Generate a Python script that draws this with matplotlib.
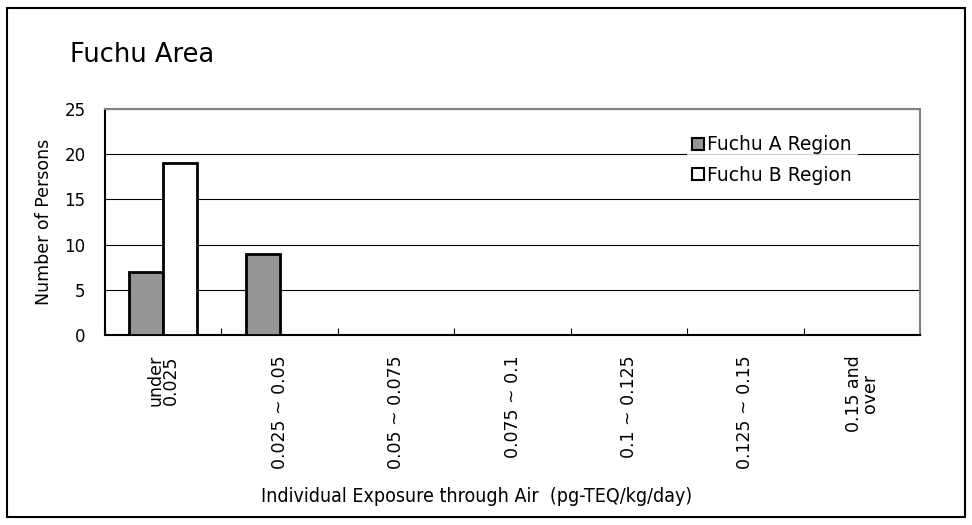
import matplotlib.pyplot as plt
import numpy as np
from matplotlib.patches import Rectangle

categories = ["under\n0.025", "0.025 ~ 0.05", "0.05 ~ 0.075", "0.075 ~ 0.1",
              "0.1 ~ 0.125", "0.125 ~ 0.15", "0.15 and\nover"]
region_a = [7, 9, 0, 0, 0, 0, 0]
region_b = [19, 0, 0, 0, 0, 0, 0]

fig = plt.figure(figsize=(9.72, 5.25), dpi=100)
ax = fig.add_axes([105 / 972, 1 - 335 / 525, 815 / 972, 226 / 525])

x = np.arange(len(categories))
w = 0.29
ax.bar(x - w / 2, region_a, w, color="#969696", edgecolor="black", linewidth=2,
       label="Fuchu A Region", zorder=3)
ax.bar(x + w / 2, region_b, w, color="white", edgecolor="black", linewidth=2,
       label="Fuchu B Region", zorder=3)

ax.set_xlim(-0.5, len(categories) - 0.5)
ax.set_ylim(0, 25)
ax.set_yticks(range(0, 26, 5))
ax.yaxis.grid(True, color="black", linewidth=0.8)
ax.set_axisbelow(True)
ax.tick_params(axis="y", length=0, labelsize=12, pad=14)

ax.set_xticks(np.arange(len(categories) + 1) - 0.5, minor=False)
ax.set_xticklabels([])
ax.tick_params(axis="x", direction="in", length=5, width=0.8, color="black")
for i, lab in enumerate(categories):
    ax.text(i, -2.2, lab, rotation=90, ha="center", va="top", fontsize=12.5,
            linespacing=0.85, transform=ax.transData)

for side in ["top", "right"]:
    ax.spines[side].set_color("#808080")
    ax.spines[side].set_linewidth(1.5)
for side in ["left", "bottom"]:
    ax.spines[side].set_color("black")
    ax.spines[side].set_linewidth(1.5)

leg = ax.legend(loc="upper right", bbox_to_anchor=(0.935, 0.95), frameon=True,
                fontsize=13.5, handlelength=0.6, handleheight=0.6, handletextpad=0.2,
                borderpad=0.3, labelspacing=0.6, fancybox=False)
leg.get_frame().set_edgecolor("none")
leg.get_frame().set_facecolor("white")
for h in leg.legend_handles:
    h.set_linewidth(1.5)

ax.set_ylabel("Number of Persons", fontsize=12.5, labelpad=8)
fig.text(0.49, 1 - 497 / 525, "Individual Exposure through Air  (pg-TEQ/kg/day)",
         ha="center", va="center", fontsize=14, fontstretch="condensed")
fig.text(70 / 972, 1 - 55 / 525, "Fuchu Area", ha="left", va="center", fontsize=18.5)

fig.patches.append(Rectangle((7 / 972, 8 / 525), 958 / 972, 509 / 525,
                             transform=fig.transFigure, fill=False,
                             edgecolor="black", linewidth=1.5))

fig.savefig("out.png", dpi=100)
